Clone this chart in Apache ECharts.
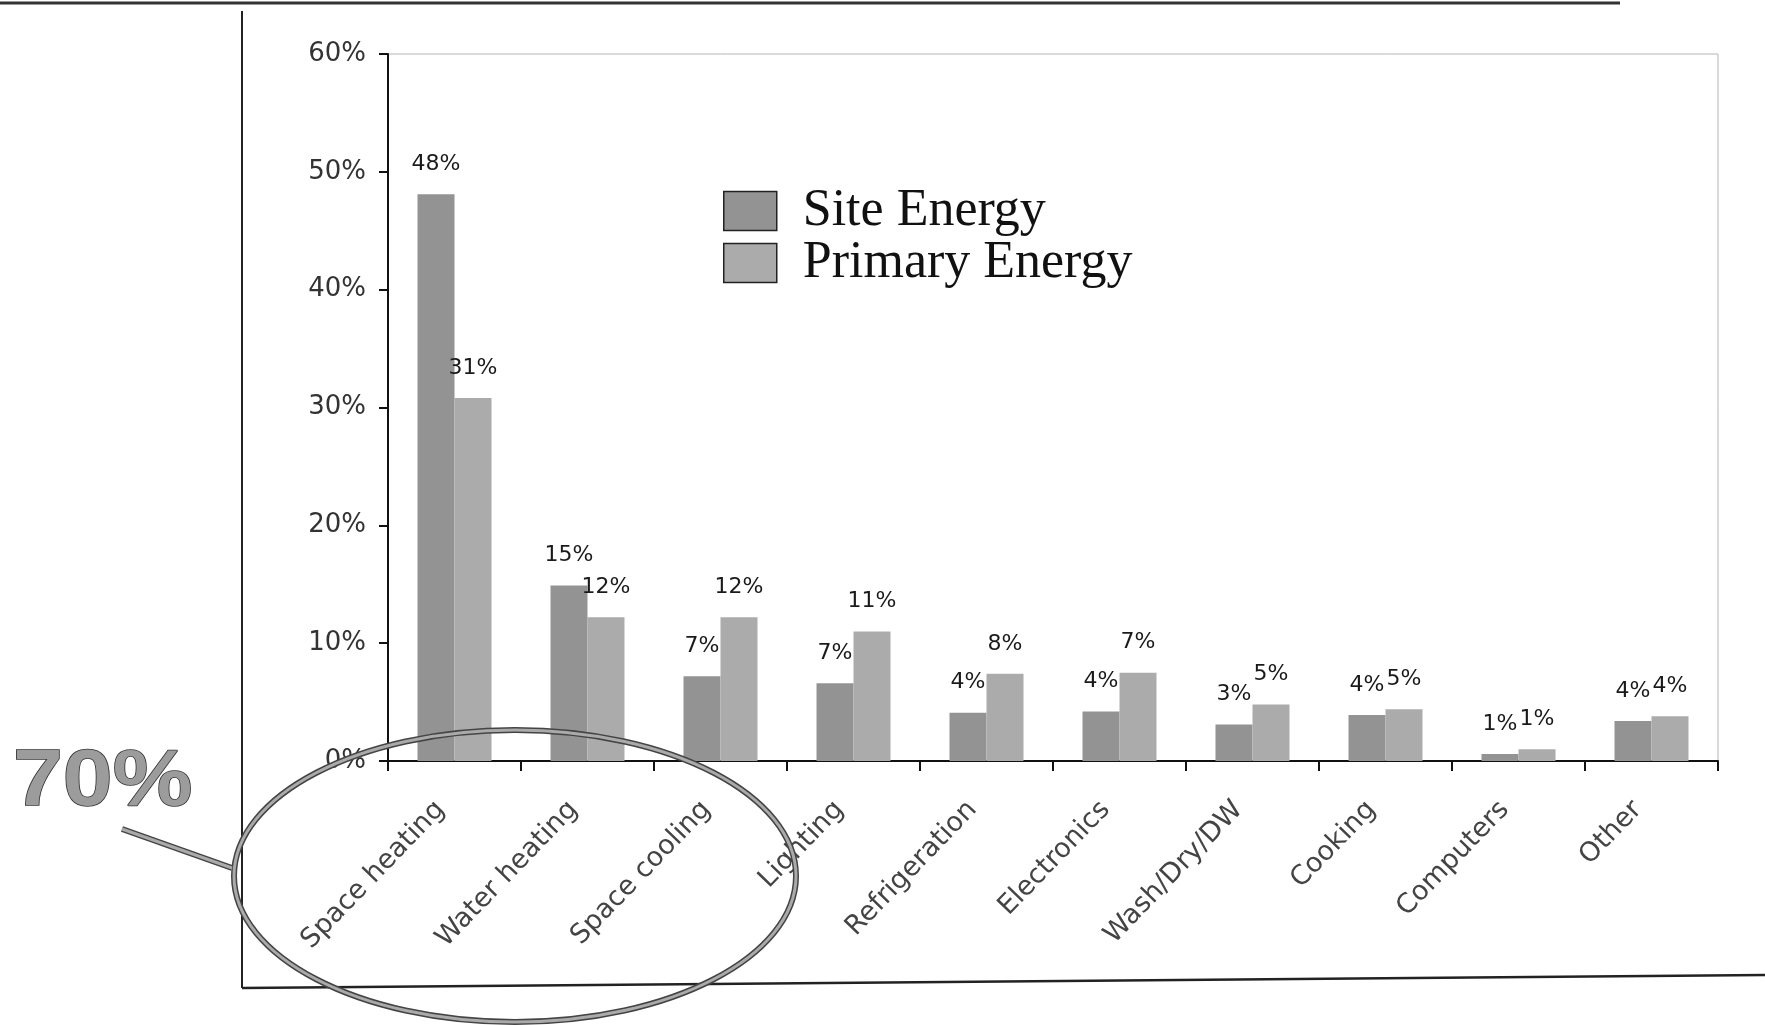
<!DOCTYPE html>
<html>
<head>
<meta charset="utf-8">
<script src="https://cdn.jsdelivr.net/npm/echarts@6/dist/echarts.min.js"></script>
<style>
  html, body { margin: 0; padding: 0; background: #fff; }
  #chart { width: 1765px; height: 1025px; }
</style>
</head>
<body>
<div id="chart"></div>
<script>
// energy end-use shares
const categories = ["Space heating", "Water heating", "Space cooling", "Lighting", "Refrigeration",
  "Electronics", "Wash/Dry/DW", "Cooking", "Computers", "Other"];
const siteEnergy = [48.1, 14.9, 7.2, 6.6, 4.1, 4.2, 3.1, 3.9, 0.6, 3.4];
const primaryEnergy = [30.8, 12.2, 12.2, 11.0, 7.4, 7.5, 4.8, 4.4, 1.0, 3.8];
const siteLabels = ["48%", "15%", "7%", "7%", "4%", "4%", "3%", "4%", "1%", "4%"];
const primaryLabels = ["31%", "12%", "12%", "11%", "8%", "7%", "5%", "5%", "1%", "4%"];
const yTickValues = [0, 10, 20, 30, 40, 50, 60];
const yTickLabels = ["0%", "10%", "20%", "30%", "40%", "50%", "60%"];

const chart = echarts.init(document.getElementById("chart"));

const labelStyle = {
  show: true,
  position: "top",
  distance: 19,
  color: "#1a1a1a",
  fontFamily: "DejaVu Sans",
  fontSize: 22,
};

const option = {
  backgroundColor: "#fff",
  animation: false,
  grid: {
    left: 388,
    right: 47,
    top: 54,
    bottom: 264,
    show: true,
    borderColor: "#b5b5b5",
    borderWidth: 1,
  },
  legend: {
    orient: "vertical",
    left: 718,
    top: 180,
    itemWidth: 53,
    itemHeight: 39,
    itemGap: 0,
    icon: "rect",
    itemStyle: { borderColor: "#222", borderWidth: 1.5 },
    textStyle: {
      fontFamily: "Liberation Serif",
      fontSize: 52,
      lineHeight: 52,
      color: "#111",
      padding: [0, 0, 0, 21],
    },
    data: ["Site Energy", "Primary Energy"],
  },
  xAxis: {
    type: "category",
    data: categories,
    axisLine: { lineStyle: { color: "#111", width: 2 } },
    axisTick: { show: true, length: 10, lineStyle: { color: "#111", width: 2 } },
    axisLabel: {
      rotate: 46,
      margin: 30,
      padding: [0, 20, 0, 0],
      color: "#444",
      fontFamily: "DejaVu Sans",
      fontSize: 27,
      interval: 0,
    },
    splitLine: { show: false },
  },
  yAxis: {
    type: "value",
    min: 0,
    max: 60,
    interval: 10,
    axisLine: { show: true, lineStyle: { color: "#111", width: 2 } },
    axisTick: { show: true, length: 9, lineStyle: { color: "#111", width: 2 } },
    axisLabel: {
      margin: 22,
      color: "#333",
      fontFamily: "DejaVu Sans",
      fontSize: 26,
      formatter: (v) => yTickLabels[yTickValues.indexOf(v)],
    },
    splitLine: { show: false },
  },
  series: [
    {
      name: "Site Energy",
      type: "bar",
      data: siteEnergy,
      barWidth: 37,
      barGap: "0%",
      itemStyle: { color: "#939393" },
      label: Object.assign({}, labelStyle, { formatter: (p) => siteLabels[p.dataIndex] }),
    },
    {
      name: "Primary Energy",
      type: "bar",
      data: primaryEnergy,
      barWidth: 37,
      barGap: "0%",
      itemStyle: { color: "#ababab" },
      label: Object.assign({}, labelStyle, { formatter: (p) => primaryLabels[p.dataIndex] }),
    },
  ],
  graphic: [
    // slide frame
    { type: "line", shape: { x1: 0, y1: 3, x2: 1620, y2: 3 }, style: { stroke: "#333", lineWidth: 3 } },
    { type: "line", shape: { x1: 242, y1: 11, x2: 242, y2: 988 }, style: { stroke: "#222", lineWidth: 2 } },
    { type: "line", shape: { x1: 242, y1: 988, x2: 1765, y2: 975 }, style: { stroke: "#222", lineWidth: 2.5 } },
    // callout
    {
      type: "text",
      x: 13,
      y: 743,
      scaleX: 1.12,
      scaleY: 1,
      style: {
        text: "70%",
        font: 'bold 80px "Liberation Sans"',
        fill: "#9c9c9c",
        stroke: "#333",
        lineWidth: 1.5,
        verticalAlign: "top",
      },
      z: 100,
    },
    { type: "line", shape: { x1: 122, y1: 829, x2: 232, y2: 868 }, style: { stroke: "#444", lineWidth: 6 }, z: 100 },
    { type: "line", shape: { x1: 122, y1: 829, x2: 232, y2: 868 }, style: { stroke: "#aaa", lineWidth: 3 }, z: 101 },
    { type: "ellipse", shape: { cx: 515, cy: 876, rx: 281, ry: 146 }, style: { fill: null, stroke: "#444", lineWidth: 6 }, z: 100 },
    { type: "ellipse", shape: { cx: 515, cy: 876, rx: 281, ry: 146 }, style: { fill: null, stroke: "#aaa", lineWidth: 3 }, z: 101 },
  ],
};

chart.setOption(option);
</script>
</body>
</html>
